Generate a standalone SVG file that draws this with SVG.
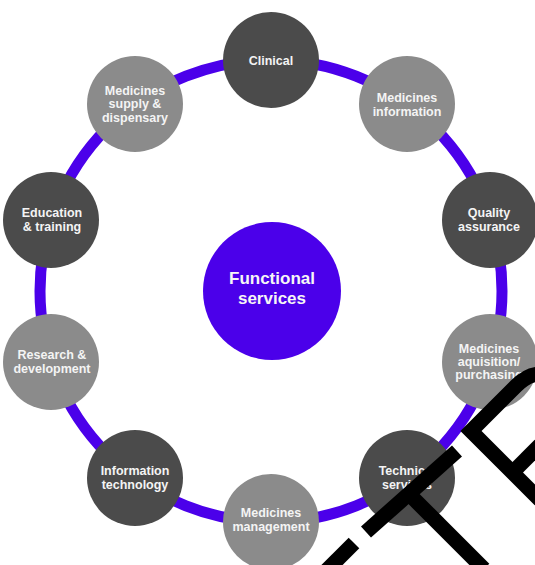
<svg xmlns="http://www.w3.org/2000/svg" width="535" height="565" viewBox="0 0 535 565">
<style>
.dark{fill:#4b4b4b}
.grey{fill:#8b8b8b}
.lbl{font-family:"Liberation Sans",Arial,sans-serif;font-weight:bold;font-size:12.5px;fill:#f4f4f4;text-anchor:middle}
.big{font-family:"Liberation Sans",Arial,sans-serif;font-weight:bold;font-size:17px;fill:#f6f6f6;text-anchor:middle}
.ink{fill:none;stroke:#000;stroke-width:15;stroke-linecap:butt;stroke-linejoin:miter}
</style>
<rect width="535" height="565" fill="#fff"/>
<g id="connectors">
<circle cx="271" cy="291" r="231" fill="none" stroke="#4b00ea" stroke-width="11"/>
</g>
<g id="center">
<circle cx="272" cy="291" r="69" fill="#4b00ea"/>
<text class="big" x="272" y="284">Functional</text>
<text class="big" x="272" y="304">services</text>
</g>
<g id="clinical">
<circle class="dark" cx="271" cy="60" r="48"/>
<text class="lbl" x="271" y="65">Clinical</text>
</g>
<g id="medicines-information">
<circle class="grey" cx="407" cy="104" r="48"/>
<text class="lbl" x="407" y="102">Medicines</text>
<text class="lbl" x="407" y="115.5">information</text>
</g>
<g id="quality-assurance">
<circle class="dark" cx="490" cy="220" r="48"/>
<text class="lbl" x="489" y="217">Quality</text>
<text class="lbl" x="489" y="230.5">assurance</text>
</g>
<g id="medicines-aquisition">
<circle class="grey" cx="490" cy="362" r="48"/>
<text class="lbl" x="489" y="353">Medicines</text>
<text class="lbl" x="489" y="366">aquisition/</text>
<text class="lbl" x="489" y="379">purchasing</text>
</g>
<g id="technical-services">
<circle class="dark" cx="407" cy="478" r="48"/>
<text class="lbl" x="407" y="475">Technical</text>
<text class="lbl" x="407" y="488.5">services</text>
</g>
<g id="medicines-management">
<circle class="grey" cx="271" cy="522" r="48"/>
<text class="lbl" x="271" y="517">Medicines</text>
<text class="lbl" x="271" y="531">management</text>
</g>
<g id="information-technology">
<circle class="dark" cx="135" cy="478" r="48"/>
<text class="lbl" x="135" y="475">Information</text>
<text class="lbl" x="135" y="488.5">technology</text>
</g>
<g id="research-development">
<circle class="grey" cx="51" cy="362" r="48"/>
<text class="lbl" x="52" y="359">Research &amp;</text>
<text class="lbl" x="52" y="372.5">development</text>
</g>
<g id="education-training">
<circle class="dark" cx="51" cy="220" r="48"/>
<text class="lbl" x="52" y="217">Education</text>
<text class="lbl" x="52" y="230.5">&amp; training</text>
</g>
<g id="medicines-supply">
<circle class="grey" cx="135" cy="104" r="48"/>
<text class="lbl" x="135" y="95">Medicines</text>
<text class="lbl" x="135" y="108">supply &amp;</text>
<text class="lbl" x="135" y="121.5">dispensary</text>
</g>
<g id="overlay">
<path class="ink" d="M540 374 C530 374 523 379 516 386 L471 431 L540 500"/>
<path class="ink" d="M513 472 L540 445"/>
<path class="ink" d="M457 451 L366 532"/>
<path class="ink" d="M411 496 L484 569"/>
<path class="ink" d="M354 543 L326 571"/>
</g>
</svg>
